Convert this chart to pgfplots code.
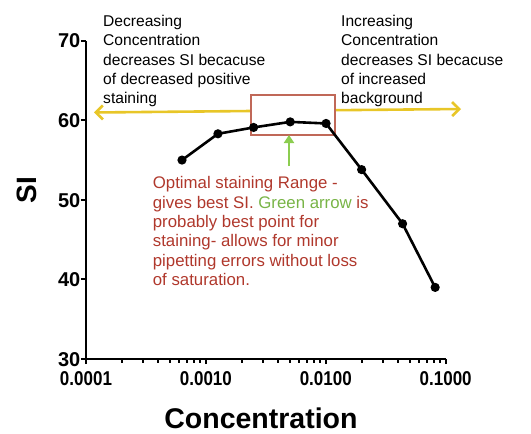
\documentclass[border=0pt]{standalone}
\usepackage{fontspec}
\setmainfont{Liberation Sans}
\newfontfamily\tickfont[FakeStretch=0.85]{Liberation Sans}
\usepackage{pgfplots}
\pgfplotsset{compat=1.18}
\usetikzlibrary{arrows.meta}
\definecolor{annred}{RGB}{176,56,44}
\definecolor{anngreen}{RGB}{120,180,70}
\definecolor{arrgreen}{RGB}{140,205,80}
\definecolor{annyellow}{RGB}{232,198,40}
\definecolor{boxred}{RGB}{192,104,88}
\begin{document}
\begin{tikzpicture}[x=1pt,y=1pt]
\path[use as bounding box] (0,0) rectangle (531,-434);
% annotations behind the curve
\draw[annyellow, line width=2.6pt, {Straight Barb[length=7pt,width=14pt]}-{Straight Barb[length=7pt,width=14pt]}] (94,-112.5) -- (461,-109);
\draw[boxred, line width=1.8pt, fill=white] (251,-95) rectangle (335,-135);
\draw[arrgreen, line width=2.8pt, -{Triangle[length=8pt,width=10pt]}] (289,-166) -- (289,-135);
\node[anchor=north west, align=left, inner sep=0pt, font=\fontsize{15.6}{19.3}\selectfont] at (103,-15)
 {Decreasing\\Concentration\\decreases SI becacuse\\of decreased positive\\staining};
\node[anchor=north west, align=left, inner sep=0pt, font=\fontsize{15.6}{19.3}\selectfont] at (341,-15)
 {Increasing\\Concentration\\decreases SI becacuse\\of increased\\background};
\node[anchor=north west, align=left, inner sep=0pt, text=annred, font=\fontsize{16.8}{19.3}\selectfont] at (152.7,-176.5)
 {Optimal staining Range -\\gives best SI. \textcolor{anngreen}{Green arrow} is\\probably best point for\\staining- allows for minor\\pipetting errors without loss\\of saturation.};
\begin{axis}[
  at={(86pt,-359pt)}, anchor=south west,
  scale only axis, width=359.7pt, height=318.3pt,
  xmode=log, xmin=1e-4, xmax=1e-1, ymin=30, ymax=70,
  axis lines*=left,
  axis line style={line width=2.6pt, -},
  xtick={1e-4,1e-3,1e-2,1e-1},
  xticklabels={0.0001,0.0010,0.0100,0.1000},
  ytick={30,40,50,60,70},
  tick align=outside,
  major tick length=5pt, minor tick length=3.5pt,
  every tick/.style={black, line width=1.9pt},
  xticklabel style={font=\fontsize{20}{20}\selectfont\tickfont\bfseries, inner sep=0pt, text height=14.3pt, text depth=0pt, yshift=-7pt},
  yticklabel style={font=\fontsize{20}{20}\selectfont\bfseries, inner sep=0.5pt, text height=14.3pt, text depth=0pt},
  /pgf/number format/assume math mode=true,
  xlabel={Concentration}, ylabel={SI},
  xlabel style={font=\fontsize{28.5}{28.5}\selectfont\bfseries, at={(axis description cs:0.4865,-0.187)}, anchor=center},
  ylabel style={font=\fontsize{28}{28}\selectfont\bfseries, at={(axis description cs:-0.164,0.531)}, anchor=center},
  clip=false,
]
\addplot[black, line width=2.6pt, mark=*, mark size=3.2pt] coordinates {
 (0.000632,55.0) (0.00126,58.3) (0.0025,59.1) (0.00505,59.8)
 (0.01005,59.6) (0.0199,53.8) (0.0437,47.0) (0.0817,39.0)
};
\end{axis}
\end{tikzpicture}
\end{document}
